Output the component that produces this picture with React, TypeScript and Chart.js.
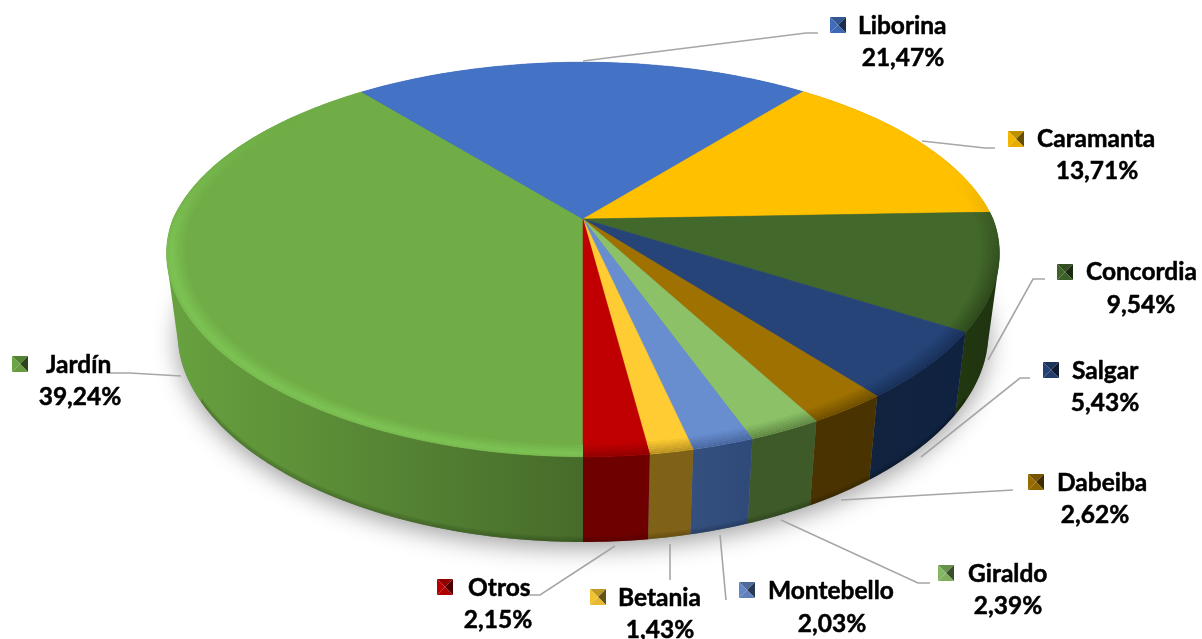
import React, { useEffect, useRef } from "react";
import { Chart, registerables } from "chart.js";

Chart.register(...registerables);

const categories = ["Jardín", "Liborina", "Caramanta", "Concordia", "Salgar", "Dabeiba", "Giraldo", "Montebello", "Betania", "Otros"];
const shares = [39.24, 21.47, 13.71, 9.54, 5.43, 2.62, 2.39, 2.03, 1.43, 2.15];
const pctLabels = ["39,24%", "21,47%", "13,71%", "9,54%", "5,43%", "2,62%", "2,39%", "2,03%", "1,43%", "2,15%"];
const topColors = ["#70ad47", "#4472c4", "#ffc000", "#43682b", "#264478", "#9e7100", "#8cc168", "#698ed0", "#ffcd33", "#c00000"];
const wallFrom = ["#68a23f", "#2d4f8a", "#a07a00", "#22380f", "#11233f", "#4a3300", "#3d5a28", "#34507f", "#7f6118", "#6e0000"];
const wallTo = ["#466b2a", "#2d4f8a", "#a07a00", "#1e3311", "#0f2240", "#493300", "#3d5a28", "#2f4a78", "#7f6118", "#6e0000"];

// layout: marker centre, name left, name y, percent centre x, percent y
const labelLayout = [
  [20, 364, 46, 365, 80, 397],
  [838, 25, 858, 26, 903, 58],
  [1016, 139, 1037, 139, 1097, 171],
  [1065, 272, 1086, 272, 1141, 305],
  [1051, 370, 1072, 371, 1105, 403],
  [1036, 482, 1057, 483, 1095, 515],
  [946, 573, 968, 574, 1008, 606],
  [747, 590, 768, 591, 832, 624],
  [598, 597, 618, 598, 660, 630],
  [445, 587, 468, 588, 498, 620],
];
const leaders = [
  [[181, 376], [130, 373], [110, 373]],
  [[583, 61], [806, 33], [818, 33]],
  [[922, 141], [985, 148], [995, 148]],
  [[988, 360], [1033, 279], [1045, 279]],
  [[921, 457], [1020, 378], [1030, 378]],
  [[841, 500], [1013, 490]],
  [[781, 520], [918, 583], [930, 583]],
  [[720, 535], [726, 600]],
  [[670, 544], [670, 580]],
  [[615, 546], [540, 595], [528, 595]],
];

const KY = 0.205;
const KX_BACK = 0.205;
const KX_FRONT = 0.175;
const topRing = { cx: 583, cy: 219, a: 189, b: 410 };
const lowRing = { cx: 583, cy: 298.6, a: 193.5, b: 399 };

function project(ring: any, theta: number, r = 1) {
  const u = Math.sin(theta) * r;
  const v = Math.cos(theta) * r;
  const wx = 1 + (v > 0 ? KX_BACK : KX_FRONT) * v;
  const wy = 1 + KY * v;
  return [ring.cx + (ring.b * u) / wx, ring.cy - (ring.a * v) / wy];
}
function hexRgb(h: string) {
  return [1, 3, 5].map((i) => parseInt(h.slice(i, i + 2), 16));
}
function mix(a: string, b: string, t: number) {
  const A = hexRgb(a), B = hexRgb(b);
  return `rgb(${A.map((x, i) => Math.round(x + (B[i] - x) * t)).join(",")})`;
}
function shade(h: string, f: number) {
  return `rgb(${hexRgb(h).map((x) => Math.round(x * f)).join(",")})`;
}

const pie3d = {
  id: "pie3d",
  beforeDatasetDraw(chart: any) {
    const ctx: CanvasRenderingContext2D = chart.ctx;
    const arcs = chart.getDatasetMeta(0).data;
    const STEP = Math.PI / 360;
    const slices = arcs.map((a: any, i: number) => ({ i, s: a.startAngle + Math.PI / 2, e: a.endAngle + Math.PI / 2 }));

    // soft ground shadow
    ctx.save();
    ctx.shadowColor = "rgba(0,0,0,0.38)";
    ctx.shadowBlur = 24;
    ctx.shadowOffsetY = 6;
    ctx.fillStyle = "#777";
    ctx.beginPath();
    for (let t = 0; t < Math.PI * 2; t += 0.02) {
      const p = project(lowRing, t);
      t === 0 ? ctx.moveTo(p[0], p[1]) : ctx.lineTo(p[0], p[1]);
    }
    ctx.closePath();
    ctx.fill();
    ctx.restore();

    // side wall: every slice is one path of many quads, back to front
    const order = [...slices].sort((p: any, q: any) => Math.cos((q.s + q.e) / 2) - Math.cos((p.s + p.e) / 2));
    order.forEach((sl: any) => {
      let minX = 1e9, maxX = -1e9;
      ctx.beginPath();
      for (let t = sl.s; t < sl.e - 1e-6; t += STEP * 2) {
        const t2 = Math.min(t + STEP * 2, sl.e);
        const a = project(topRing, t), b = project(topRing, t2);
        const c = project(lowRing, t2), d = project(lowRing, t);
        minX = Math.min(minX, a[0], b[0], c[0], d[0]);
        maxX = Math.max(maxX, a[0], b[0], c[0], d[0]);
        // keep one winding direction for every quad
        const area = (b[0] - a[0]) * (c[1] - a[1]) - (b[1] - a[1]) * (c[0] - a[0]);
        const pts = area >= 0 ? [a, b, c, d] : [d, c, b, a];
        pts.forEach((p, k) => (k ? ctx.lineTo(p[0], p[1]) : ctx.moveTo(p[0], p[1])));
        ctx.closePath();
      }
      const g = ctx.createLinearGradient(minX, 0, maxX, 0);
      g.addColorStop(0, wallFrom[sl.i]);
      g.addColorStop(1, wallTo[sl.i]);
      ctx.fillStyle = g;
      ctx.fill();
    });

    // darker lower edge of the wall
    for (let n = 0; n < 4; n++) {
      ctx.strokeStyle = `rgba(0,0,0,${0.16 - n * 0.035})`;
      ctx.lineWidth = 1.4;
      ctx.beginPath();
      const t0 = Math.PI / 2 + 0.5;
      for (let t = t0; t < (Math.PI * 3) / 2 - 0.5; t += STEP) {
        const p = project(lowRing, t);
        const y = p[1] - 0.7 - n * 1.3;
        t === t0 ? ctx.moveTo(p[0], y) : ctx.lineTo(p[0], y);
      }
      ctx.stroke();
    }

    // top faces
    slices.forEach((sl: any) => {
      ctx.fillStyle = topColors[sl.i];
      ctx.strokeStyle = topColors[sl.i];
      ctx.lineWidth = 0.5;
      ctx.beginPath();
      ctx.moveTo(topRing.cx, topRing.cy);
      for (let t = sl.s; t < sl.e; t += STEP) {
        const p = project(topRing, t);
        ctx.lineTo(p[0], p[1]);
      }
      const p = project(topRing, sl.e);
      ctx.lineTo(p[0], p[1]);
      ctx.closePath();
      ctx.fill();
      ctx.stroke();
    });

    // bevel along the rim: concentric thin bands, outermost first
    const BANDS = 7;
    slices.forEach((sl: any) => {
      for (let n = 0; n < BANDS; n++) {
        const r1 = 1 - n * 0.006;
        const r2 = r1 - 0.006;
        for (let t = sl.s; t < sl.e - 1e-6; t += STEP * 2) {
          const t2 = Math.min(t + STEP * 2.2, sl.e);
          const c = Math.cos(t);
          const s = Math.sin(t);
          if (c > 0.6 && s < 0 && sl.i === 0) continue;
          if (c > 0.25 && sl.i !== 0) continue;
          const prof = n < 2 ? 0.75 + n * 0.25 : 1 - (n - 2) / (BANDS - 2);
          let col: string;
          if (sl.i === 0) {
            const strength = Math.min(1, Math.max(0, (0.6 - c) / 0.8));
            col = mix(topColors[0], "#7dc254", prof * strength);
          } else {
            const front = Math.min(0.55, Math.max(0, 0.25 - c));
            col = mix(topColors[sl.i], wallTo[sl.i], front * (1 - n / BANDS));
          }
          const a = project(topRing, t, r1), b = project(topRing, t2, r1);
          const e = project(topRing, t2, r2), d = project(topRing, t, r2);
          ctx.fillStyle = col;
          ctx.beginPath();
          ctx.moveTo(a[0], a[1]);
          ctx.lineTo(b[0], b[1]);
          ctx.lineTo(e[0], e[1]);
          ctx.lineTo(d[0], d[1]);
          ctx.closePath();
          ctx.fill();
        }
      }
    });
    return false;
  },
  afterDraw(chart: any) {
    const ctx: CanvasRenderingContext2D = chart.ctx;
    ctx.save();
    ctx.strokeStyle = "#a6a6a6";
    ctx.lineWidth = 1.6;
    leaders.forEach((pts) => {
      ctx.beginPath();
      pts.forEach((p, i) => (i ? ctx.lineTo(p[0], p[1]) : ctx.moveTo(p[0], p[1])));
      ctx.stroke();
    });
    ctx.textBaseline = "middle";
    ctx.font = "bold 24.5px Lato";
    ctx.lineJoin = "round";
    categories.forEach((name, i) => {
      const [mx, my, nx, ny, px, py] = labelLayout[i];
      const h = 8;
      const base = topColors[i];
      const tri = (x1: number, y1: number, x2: number, y2: number, col: string) => {
        ctx.fillStyle = col;
        ctx.beginPath();
        ctx.moveTo(mx, my);
        ctx.lineTo(x1, y1);
        ctx.lineTo(x2, y2);
        ctx.closePath();
        ctx.fill();
      };
      tri(mx - h, my - h, mx + h, my - h, shade(base, 0.75));
      tri(mx - h, my - h, mx - h, my + h, shade(base, 0.95));
      tri(mx + h, my - h, mx + h, my + h, shade(base, 0.4));
      tri(mx - h, my + h, mx + h, my + h, shade(base, 0.9));
      ctx.fillStyle = "#000";
      ctx.strokeStyle = "#000";
      ctx.lineWidth = 0.5;
      ctx.textAlign = "left";
      ctx.fillText(name, nx, ny);
      ctx.strokeText(name, nx, ny);
      ctx.textAlign = "center";
      ctx.fillText(pctLabels[i], px, py);
      ctx.strokeText(pctLabels[i], px, py);
    });
    ctx.restore();
  },
};

export default function App() {
  const ref = useRef<HTMLCanvasElement>(null);
  useEffect(() => {
    const chart = new Chart(ref.current as HTMLCanvasElement, {
      type: "pie",
      data: { labels: categories, datasets: [{ data: shares, backgroundColor: topColors, borderWidth: 0 }] },
      options: {
        animation: false,
        responsive: false,
        rotation: 180,
        plugins: { legend: { display: false }, tooltip: { enabled: false } },
      },
      plugins: [pie3d],
    } as any);
    return () => chart.destroy();
  }, []);
  return (
    <canvas
      ref={ref}
      width={1202}
      height={639}
      style={{ position: "absolute", left: 0, top: 0, width: 1202, height: 639, display: "block" }}
    />
  );
}
